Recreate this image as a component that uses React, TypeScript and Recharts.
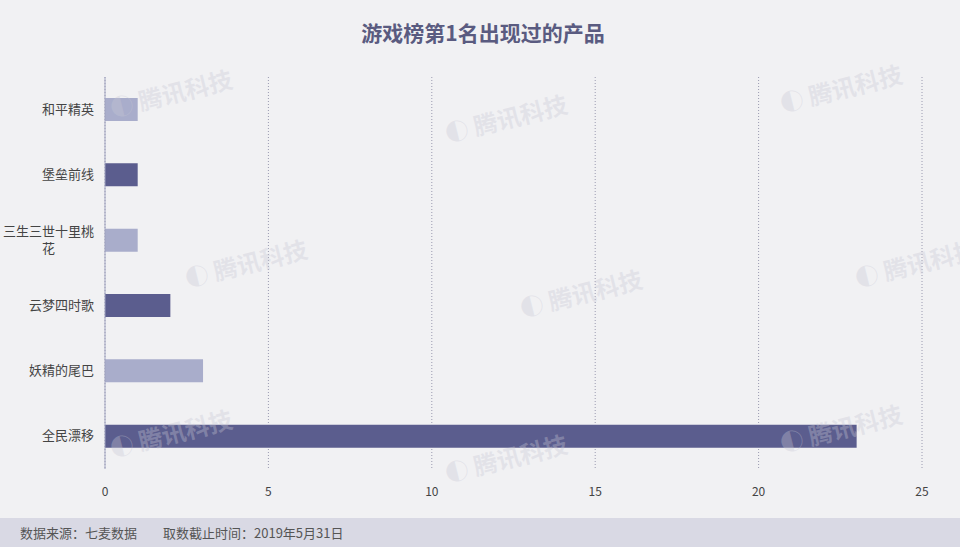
import { BarChart, Bar, Cell, XAxis, YAxis, CartesianGrid } from "recharts";

const PRODUCTS = ["和平精英", "堡垒前线", "三生三世十里桃花", "云梦四时歌", "妖精的尾巴", "全民漂移"];
const TIMES = [1, 1, 1, 2, 3, 23];
const X_TICKS = [0, 5, 10, 15, 20, 25];
const BAR_COLORS = ["#a9adcb", "#5b5d8e"];
const WATERMARKS = [
  [108, 75], [443, 100], [778, 70],
  [183, 245], [518, 275], [853, 245],
  [108, 415], [443, 440], [778, 410]
];

const FONT = '"Noto Sans CJK SC", "Noto Sans", sans-serif';
const LABEL_SIZE = 13;
const WRAP_AT = 7;

const data = PRODUCTS.map((name, i) => ({ name, value: TIMES[i] }));

function CategoryTick(props: any) {
  const { x, y, payload } = props;
  const label: string = payload.value;
  const right = x - 3;
  // long labels wrap after 7 characters, second line centred under the first
  if (label.length <= WRAP_AT) {
    return (
      <text x={right} y={y} dy={4} textAnchor="end" fill="#444" fontSize={LABEL_SIZE} fontFamily={FONT}>
        {label}
      </text>
    );
  }
  const lines = [label.slice(0, WRAP_AT), label.slice(WRAP_AT)];
  const cx = right - (WRAP_AT * LABEL_SIZE) / 2;
  return (
    <g>
      {lines.map((line, i) => (
        <text
          key={i}
          x={cx}
          y={y + (i - 0.5) * 17}
          dy={4}
          textAnchor="middle"
          fill="#444"
          fontSize={LABEL_SIZE}
          fontFamily={FONT}
        >
          {line}
        </text>
      ))}
    </g>
  );
}

export default function App() {
  return (
    <div
      style={{
        position: "fixed",
        left: 0,
        top: 0,
        width: 960,
        height: 547,
        background: "#f1f1f3",
        fontFamily: FONT,
        overflow: "hidden"
      }}
    >
      <div
        style={{
          position: "absolute",
          top: 17,
          left: 0,
          width: 966,
          textAlign: "center",
          fontSize: 21,
          fontWeight: 700,
          color: "#5a5b80"
        }}
      >
        游戏榜第1名出现过的产品
      </div>
      <BarChart
        width={960}
        height={518}
        data={data}
        layout="vertical"
        margin={{ top: 77, right: 38, left: 0, bottom: 19 }}
      >
        <CartesianGrid horizontal={false} stroke="#9a9ab0" strokeDasharray="1 2" />
        <XAxis
          type="number"
          domain={[0, 25]}
          ticks={X_TICKS}
          axisLine={false}
          tickLine={false}
          tickMargin={12}
          height={30}
          tick={{ fill: "#444", fontSize: 12, fontFamily: FONT }}
        />
        <YAxis
          type="category"
          dataKey="name"
          width={105}
          axisLine={{ stroke: "#a0a3bf" }}
          tickLine={false}
          tick={<CategoryTick />}
          interval={0}
        />
        <Bar dataKey="value" barSize={23} isAnimationActive={false}>
          {data.map((d, i) => (
            <Cell key={d.name} fill={BAR_COLORS[i % 2]} />
          ))}
        </Bar>
      </BarChart>
      {WATERMARKS.map(([x, y], i) => (
        <div
          key={i}
          style={{
            position: "absolute",
            left: x,
            top: y,
            fontSize: 24,
            fontWeight: 700,
            color: "rgba(200,200,212,0.35)",
            transform: "rotate(-14deg)",
            whiteSpace: "nowrap",
            pointerEvents: "none"
          }}
        >
          ◐ 腾讯科技
        </div>
      ))}
      <div
        style={{
          position: "absolute",
          left: 0,
          top: 518,
          width: 960,
          height: 29,
          background: "#d9d9e4",
          fontSize: 13,
          color: "#555",
          lineHeight: "29px",
          paddingLeft: 20,
          boxSizing: "border-box",
          whiteSpace: "pre"
        }}
      >
        {"数据来源：七麦数据　　取数截止时间：2019年5月31日"}
      </div>
    </div>
  );
}
